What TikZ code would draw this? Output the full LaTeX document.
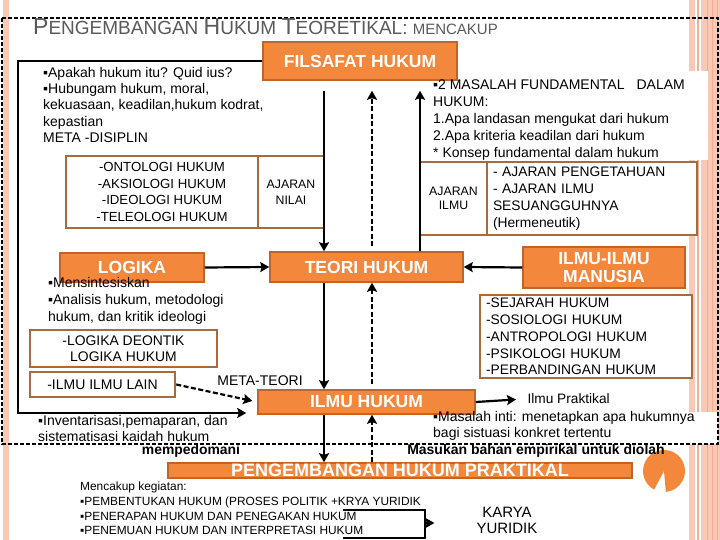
\documentclass[tikz,border=0pt]{standalone}
\usepackage{fontspec}
\setmainfont{Liberation Sans}
\usepackage{xcolor}
\usetikzlibrary{arrows.meta}
\definecolor{oranye}{HTML}{F3873B}
\definecolor{oranyetua}{HTML}{C0642C}
\definecolor{coklat}{HTML}{A96A3E}
\definecolor{salem}{HTML}{F9C9B6}
\definecolor{salemtua}{HTML}{F2AD92}
\definecolor{abu}{HTML}{5A5A5A}
\newcommand{\hb}[1]{{\fontsize{23}{23}\selectfont #1}}

\begin{document}
\begin{tikzpicture}[x=1pt, y=-1pt,
    kotak/.style={draw=oranyetua, fill=oranye, line width=1.5pt, text=white, inner sep=0pt, align=center, font=\bfseries\fontsize{17.5}{18}\selectfont},
    bingkai/.style={draw=coklat, fill=white, line width=2.5pt, inner sep=0pt, align=center, font=\fontsize{13.2}{16.7}\selectfont},
    teks/.style={anchor=north west, inner sep=0pt, align=left, font=\fontsize{14}{16.3}\selectfont},
    panah/.style={->, >={Stealth[length=9pt, width=10pt, inset=1.5pt]}, line width=2.2pt},
    putus/.style={panah, dash pattern=on 5pt off 2.5pt}
]
\useasboundingbox (0,0) rectangle (720,540);
\fill[white] (0,0) rectangle (720,540);

% hiasan pinggir
\fill[salem] (3,0) rectangle (9,540);
\fill[salem] (689,0) rectangle (695,540);
\fill[salemtua] (697,0) rectangle (699,540);
\fill[salem] (701,0) rectangle (720,540);
\draw[salemtua, line width=1pt] (707,0) -- (707,540) (712,0) -- (712,540) (717,0) -- (717,540);
\fill[oranye] (664,471) -- ++(118:21) arc[start angle=118, end angle=445, radius=21] -- cycle;

% latar putih teks kanan
\fill[white] (428,71) rectangle (708,160);
\fill[white] (428,412) rectangle (718,444);

% bingkai putus-putus
\draw[line width=1.3pt, dash pattern=on 4pt off 2pt] (2,18) rectangle (718,444);

% judul
\node[anchor=base west, inner sep=0pt, text=abu, font=\fontsize{19}{19}\selectfont] (judul) at (33,35) {\hb{P}ENGEMBANGAN \hb{H}UKUM \hb{T}EORETIKAL: {\fontsize{15}{15}\selectfont MENCAKUP}};

% Filsafat Hukum
\node[kotak, minimum width=194pt, minimum height=38pt] (filsafat) at (360,61) {FILSAFAT HUKUM};
\node[teks] (tanya) at (43,67) {▪Apakah hukum itu? Quid ius?\\▪Hubungam hukum, moral,\\kekuasaan, keadilan,hukum kodrat,\\kepastian\\META -DISIPLIN};
\node[teks, font=\fontsize{14}{17}\selectfont] (masalah) at (433,80) {▪2 MASALAH FUNDAMENTAL\hspace{12pt}DALAM\\HUKUM:\\1.Apa landasan mengukat dari hukum\\2.Apa kriteria keadilan dari hukum\\* Konsep fundamental dalam hukum};

% ajaran nilai / ajaran ilmu
\node[bingkai, minimum width=192pt, minimum height=72pt] (ontologi) at (162,192) {-ONTOLOGI HUKUM\\-AKSIOLOGI HUKUM\\-IDEOLOGI HUKUM\\-TELEOLOGI HUKUM};
\node[bingkai, minimum width=66pt, minimum height=72pt, font=\fontsize{12.3}{16}\selectfont] (nilai) at (291,192) {AJARAN\\NILAI};
\node[bingkai, minimum width=67pt, minimum height=73pt, font=\fontsize{12.3}{14.5}\selectfont] (ajilmu) at (453.5,198.5) {AJARAN\\ILMU};
\node[bingkai, minimum height=73pt, text width=198pt, inner xsep=6pt, align=left, font=\fontsize{13.8}{17}\selectfont] (ajpeng) at (592,198.5) {- AJARAN PENGETAHUAN\\- AJARAN ILMU\\SESUANGGUHNYA\\(Hermeneutik)};

% Teori Hukum
\node[kotak, minimum width=193pt, minimum height=30pt] (teori) at (366.5,267) {TEORI HUKUM};
\node[kotak, minimum width=144pt, minimum height=29pt] (logika) at (132,267.5) {LOGIKA};
\node[kotak, minimum width=162pt, minimum height=41pt] (manusia) at (604,267.5) {ILMU-ILMU\\MANUSIA};
\node[teks, font=\fontsize{14}{17}\selectfont] (sintesis) at (48,277) {▪Mensintesiskan\\▪Analisis hukum, metodologi\\hukum, dan kritik ideologi};
\node[bingkai, minimum width=187pt, minimum height=37pt, font=\fontsize{13.9}{16}\selectfont] (deontik) at (123.5,348.5) {-LOGIKA DEONTIK\\LOGIKA HUKUM};
\node[bingkai, minimum width=145pt, minimum height=25pt, font=\fontsize{14}{16}\selectfont] (lain) at (102.5,384.5) {-ILMU ILMU LAIN};
\node[bingkai, minimum height=83pt, text width=200pt, inner xsep=6pt, align=left, font=\fontsize{13.8}{16.75}\selectfont] (sejarah) at (586,336.5) {-SEJARAH HUKUM\\-SOSIOLOGI HUKUM\\-ANTROPOLOGI HUKUM\\-PSIKOLOGI HUKUM\\-PERBANDINGAN HUKUM};

% Ilmu Hukum
\node[kotak, minimum width=217pt, minimum height=24pt] (ilmuhukum) at (366.5,402) {ILMU HUKUM};
\node[font=\fontsize{14}{15}\selectfont] (metateori) at (260,381) {META-TEORI};
\node[font=\fontsize{13.7}{15}\selectfont, anchor=west] (ipraktis) at (524,399) {Ilmu Praktikal};
\node[teks] (inti) at (433,411) {▪Masalah inti: menetapkan apa hukumnya\\bagi sistuasi konkret tertentu};
\node[teks] (inventaris) at (38,415) {▪Inventarisasi,pemaparan, dan\\sistematisasi kaidah hukum};
\node[font=\bfseries\fontsize{13.9}{15}\selectfont] (pedoman) at (191,451) {mempedomani};
\node[font=\bfseries\fontsize{14}{15}\selectfont] (masukan) at (536,451) {Masukan bahan empirikal untuk diolah};

% Pengembangan Hukum Praktikal
\node[kotak, minimum width=464pt, minimum height=15pt, font=\bfseries\fontsize{18}{18}\selectfont] (praktikal) at (400,470.5) {PENGEMBANGAN HUKUM PRAKTIKAL};
\node[teks, font=\fontsize{11.9}{14.7}\selectfont] (cakup) at (80,482) {Mencakup kegiatan:\\▪PEMBENTUKAN HUKUM (PROSES POLITIK +KRYA YURIDIK\\▪PENERAPAN HUKUM DAN PENEGAKAN HUKUM\\▪PENEMUAN HUKUM DAN INTERPRETASI HUKUM};
\node[align=center, inner sep=0pt, font=\fontsize{15}{16}\selectfont] (karya) at (507,520) {KARYA\\YURIDIK};

% panah tengah
\coordinate (kolA) at (324,0);
\coordinate (kolB) at (372,0);
\coordinate (kolC) at (420,0);
\draw[panah, shorten <=10pt] (filsafat.south -| kolA) -- (teori.north -| kolA);
\draw[putus, shorten <=5pt, shorten >=10pt] (teori.north -| kolB) -- (filsafat.south -| kolB);
\draw[panah, shorten >=10pt] (teori.north -| kolC) -- (filsafat.south -| kolC);
\draw[panah] (teori.south -| kolA) -- (ilmuhukum.north -| kolA);
\draw[putus, shorten <=5pt] (ilmuhukum.north -| kolB) -- (teori.south -| kolB);
\draw[panah] (ilmuhukum.south -| kolA) -- (praktikal.north -| kolA);
\draw[putus] (praktikal.north -| kolB) -- (ilmuhukum.south -| kolB);

% panah samping
\draw[panah] (logika.east) -- (teori.west);
\draw[panah] (manusia.west) -- (teori.east);
\draw[putus, shorten >=5pt] (lain.east) -- (ilmuhukum.west);
\draw[panah, shorten >=8pt] (ilmuhukum.east) -- (ipraktis.west);

% bingkai kiri: Filsafat -> Ilmu Hukum
\coordinate (kiri) at (18,413);
\draw[panah, shorten >=11pt] (filsafat.west) -| (kiri) -- (kiri -| ilmuhukum.west);

% kurung karya yuridik
\draw[line width=2.2pt] (343,510) -- (425,510) -- (425,538) -- (343,538);
\coordinate (kurung) at (425,523);
\draw[panah, shorten >=42pt] (kurung) -- (kurung -| karya.west);
\end{tikzpicture}
\end{document}
